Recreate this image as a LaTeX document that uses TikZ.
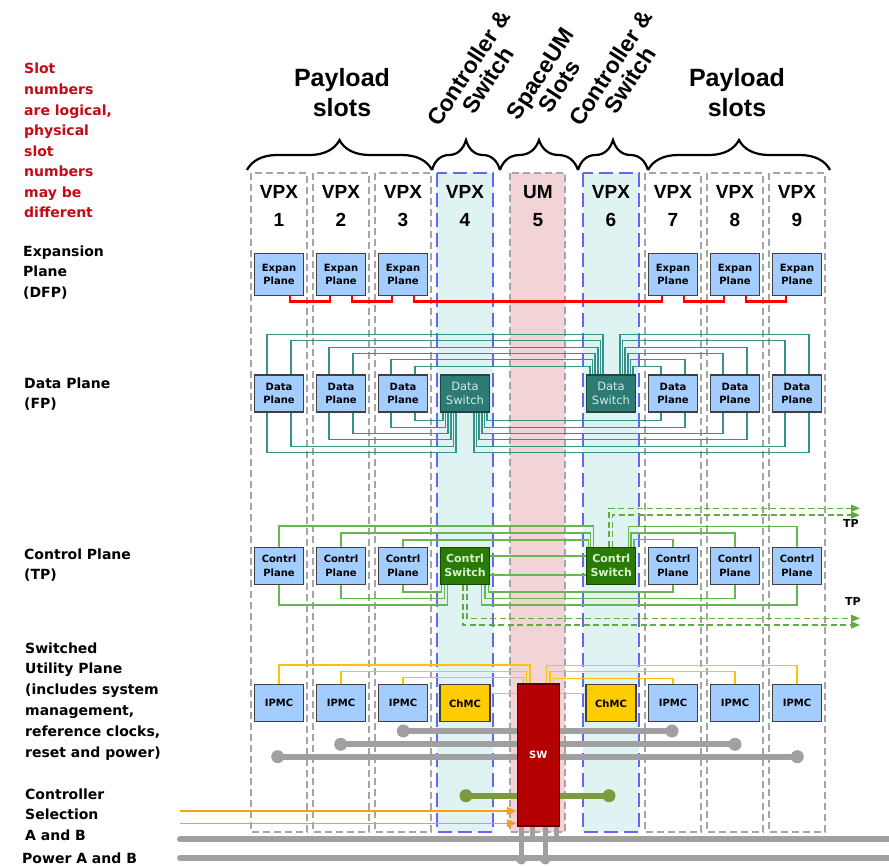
\documentclass[tikz,border=0pt]{standalone}
\usepackage{fontspec}
\setmainfont{DejaVu Sans}
\newfontfamily\hdfont{Liberation Sans}
\usetikzlibrary{arrows.meta,decorations.pathreplacing}
\pgfdeclarelayer{bg}
\pgfdeclarelayer{wires}
\pgfsetlayers{bg,wires,main}

\definecolor{boxblue}{RGB}{163,205,255}
\definecolor{boxedge}{RGB}{64,64,64}
\definecolor{slotcyan}{RGB}{223,243,243}
\definecolor{slotpink}{RGB}{242,212,215}
\definecolor{slotblue}{RGB}{100,100,255}
\definecolor{slotgray}{RGB}{165,165,165}
\definecolor{teal1}{RGB}{52,146,138}
\definecolor{tealbox}{RGB}{46,122,116}
\definecolor{tealedge}{RGB}{30,70,66}
\definecolor{tealtext}{RGB}{205,235,232}
\definecolor{grnline}{RGB}{104,182,80}
\definecolor{grnbox}{RGB}{42,122,10}
\definecolor{grnedge}{RGB}{25,70,5}
\definecolor{grntext}{RGB}{215,245,200}
\definecolor{grndash}{RGB}{96,172,64}
\definecolor{ylw}{RGB}{255,196,0}
\definecolor{chmc}{RGB}{255,204,0}
\definecolor{swred}{RGB}{180,0,0}
\definecolor{swedge}{RGB}{90,0,0}
\definecolor{busgray}{RGB}{160,160,160}
\definecolor{olivebar}{RGB}{125,155,60}
\definecolor{orng}{RGB}{245,160,30}
\definecolor{darkred}{RGB}{196,10,20}
\definecolor{expred}{RGB}{255,0,0}

\tikzset{
  pbox/.style={draw=boxedge,line width=1.1pt,fill=boxblue,minimum width=49pt,minimum height=37pt,inner sep=0pt,align=center,font=\bfseries\fontsize{10}{13.5}\selectfont},
  dsw/.style={pbox,fill=tealbox,draw=tealedge,text=tealtext,font=\fontsize{11.5}{14}\selectfont},
  csw/.style={pbox,fill=grnbox,draw=grnedge,text=grntext,font=\bfseries\fontsize{11}{14}\selectfont},
  chbox/.style={pbox,fill=chmc,minimum width=50pt},
  exline/.style={draw=expred,line width=2.4pt},
  dline/.style={draw=teal1,line width=1.7pt},
  cline/.style={draw=grnline,line width=1.3pt},
  tpline/.style={draw=grndash,line width=1.6pt,dash pattern=on 6pt off 3.5pt,-{Triangle[length=9pt,width=7pt]}},
  yline/.style={draw=ylw,line width=1.4pt},
  bus/.style={draw=busgray,line width=6pt,line cap=round},
  olivebus/.style={draw=olivebar,line width=6pt},
  selarrow/.style={draw=orng,line width=1.6pt,-{Triangle[length=10pt,width=8pt]}},
  slotframe/.style={draw=slotgray,line width=1.2pt,dash pattern=on 7pt off 4pt},
  ctlframe/.style={draw=slotblue,line width=1.3pt,dash pattern=on 14pt off 6pt},
  hbrace/.style={decorate,decoration={brace,amplitude=30pt},line width=2.2pt},
  sidelbl/.style={anchor=base west,inner sep=0pt,font=\bfseries\fontsize{14}{16}\selectfont},
  redlbl/.style={sidelbl,text=darkred},
  slotlbl/.style={align=center,inner sep=0pt,font=\hdfont\bfseries\fontsize{19}{28}\selectfont},
  grouplbl/.style={align=center,inner sep=0pt,font=\hdfont\bfseries\fontsize{25}{30}\selectfont},
  rotlbl/.style={align=center,inner sep=0pt,rotate=57,font=\hdfont\bfseries\fontsize{23}{23}\selectfont},
  tplbl/.style={inner sep=0pt,font=\bfseries\fontsize{11}{12}\selectfont},
}

\begin{document}
\begin{tikzpicture}[x=1pt,y=-1pt]
\useasboundingbox (0,0) rectangle (889,867);

% ---- slot columns ----
\begin{pgfonlayer}{bg}
  \fill[slotcyan] (437,173) rectangle (493,832);
  \fill[slotpink] (510,173) rectangle (565,832);
  \fill[slotcyan] (583,173) rectangle (639,832);
  \foreach \l in {251,313,375,645,707,769}
    \draw[slotframe] (\l,173) rectangle ++(56,659);
  \draw[slotframe] (510,173) rectangle (565,832);
  \draw[ctlframe] (437,173) rectangle (493,832);
  \draw[ctlframe] (583,173) rectangle (639,832);
\end{pgfonlayer}

% ---- headings ----
\draw[hbrace] (247,170) -- (432,170);
\draw[hbrace] (432,170) -- (500,170);
\draw[hbrace] (500,170) -- (578,170);
\draw[hbrace] (578,170) -- (648,170);
\draw[hbrace] (648,170) -- (830,170);
\node[grouplbl] (payL) at (342,93) {Payload\\slots};
\node[grouplbl] (payR) at (737,93) {Payload\\slots};
\node[rotlbl] (cswL) at (478,74) {Controller \&\\Switch};
\node[rotlbl] (spum) at (550,80) {SpaceUM\\Slots};
\node[rotlbl] (cswR) at (620,74) {Controller \&\\Switch};

\foreach \i/\x in {1/279,2/341,3/403,4/465,6/611,7/673,8/735,9/797}
  \node[slotlbl] (vpx\i) at (\x,206) {VPX\\\i};
\node[slotlbl] (vpx5) at (538,206) {UM\\5};

% ---- side notes ----
\foreach \t [count=\i] in {Slot,numbers,{are logical,},physical,slot,numbers,may be,different}
  \node[redlbl] (note\i) at (24,{74+20.5*(\i-1)}) {\t};
\foreach \t [count=\i] in {Expansion,Plane,{(DFP)}}
  \node[sidelbl] (lexp\i) at (23,{256+20.6*(\i-1)}) {\t};
\foreach \t [count=\i] in {Data Plane,{(FP)}}
  \node[sidelbl] (ldat\i) at (24,{388+20.6*(\i-1)}) {\t};
\foreach \t [count=\i] in {Control Plane,{(TP)}}
  \node[sidelbl] (lctl\i) at (24,{559+20.6*(\i-1)}) {\t};
\foreach \t [count=\i] in {Switched,Utility Plane,{(includes system},{management,},{reference clocks,},{reset and power)}}
  \node[sidelbl] (lutl\i) at (25,{653+20.8*(\i-1)}) {\t};
\foreach \t [count=\i] in {Controller,Selection,A and B}
  \node[sidelbl] (lsel\i) at (25,{799+20.6*(\i-1)}) {\t};
\node[sidelbl] (lpwr) at (22,863) {Power A and B};

% ---- modules ----
\foreach \i/\x in {1/279,2/341,3/403,7/673,8/735,9/797} {
  \node[pbox,minimum height=42pt] (e\i) at (\x,274.6) {Expan\\Plane};
  \node[pbox] (d\i) at (\x,393.5) {Data\\Plane};
  \node[pbox] (c\i) at (\x,565.7) {Contrl\\Plane};
  \node[pbox] (u\i) at (\x,703.3) {IPMC};
}
\node[dsw] (ds4) at (465,393.5) {Data\\Switch};
\node[dsw] (ds6) at (611,393.5) {Data\\Switch};
\node[csw] (cs4) at (465,565.7) {Contrl\\Switch};
\node[csw] (cs6) at (611.3,565.7) {Contrl\\Switch};
\node[chbox] (ch4) at (465,703.3) {ChMC};
\node[chbox] (ch6) at (611,703.3) {ChMC};
\node[draw=swedge,line width=1.1pt,fill=swred,text=white,minimum width=42pt,minimum height=142pt,inner sep=0pt,font=\bfseries\fontsize{10}{12}\selectfont] (sw) at (538.3,755) {SW};

\node[tplbl] (tpa) at (851,523) {TP};
\node[tplbl] (tpb) at (853,601) {TP};

\coordinate (tpu1) at (860,508.3);
\coordinate (tpu2) at (860,515);
\coordinate (tpd1) at (860,618.3);
\coordinate (tpd2) at (860,625);
\coordinate (ga1) at (403.3,731);   \coordinate (ga2) at (672,731);
\coordinate (gb1) at (340.7,744.3); \coordinate (gb2) at (735,744.3);
\coordinate (gc1) at (277.7,756.7); \coordinate (gc2) at (797.3,756.7);
\coordinate (ol1) at (466,795.7);   \coordinate (ol2) at (609,795.7);
\coordinate (sa) at (180,811);
\coordinate (sb) at (180,823.3);
\coordinate (pa1) at (180,839.3);   \coordinate (pa2) at (889,839.3);
\coordinate (pb1) at (180,857.7);   \coordinate (pb2) at (889,857.7);

\begin{pgfonlayer}{wires}
  % expansion plane daisy chain
  \foreach \a/\b in {1/2,2/3,3/7,7/8,8/9}
    \draw[exline] ([xshift=11pt]e\a.south) -- ++(0,5.5) -| ([xshift=-11pt]e\b.south);

  % data plane: upper links to the switch in slot 6
  \foreach \b/\dx/\k in {1/-12/0,1/12/1,2/-12/2,2/12/3,3/-12/4,3/12/5}
    \draw[dline] ([xshift=\dx pt]d\b.north) -- ++(0,{-(40-round(6.3*\k))}) -| ([xshift={-8-2.6*\k}]ds6.north);
  \foreach \b/\dx/\k in {9/12/0,9/-12/1,8/12/2,8/-12/3,7/12/4,7/-12/5}
    \draw[dline] ([xshift=\dx pt]d\b.north) -- ++(0,{-(40-round(6.3*\k))}) -| ([xshift={9+2.6*\k}]ds6.north);
  % data plane: lower links to the switch in slot 4
  \foreach \b/\dx/\k in {1/-12/0,1/12/1,2/-12/2,2/12/3,3/-12/4,3/12/5}
    \draw[dline] ([xshift=\dx pt]d\b.south) -- ++(0,{40-round(6.3*\k)}) -| ([xshift={-9-2.6*\k}]ds4.south);
  \foreach \b/\dx/\k in {9/12/0,9/-12/1,8/12/2,8/-12/3,7/12/4,7/-12/5}
    \draw[dline] ([xshift=\dx pt]d\b.south) -- ++(0,{40-round(6.3*\k)}) -| ([xshift={9+2.6*\k}]ds4.south);

  % control plane
  \foreach \b/\k in {1/0,2/1,3/2}
    \draw[cline] (c\b.north) -- ++(0,{-(20.6-7*\k)}) -| ([xshift={-18-2.5*\k}]cs6.north);
  \foreach \b/\k in {9/0,8/1,7/2}
    \draw[cline] (c\b.north) -- ++(0,{-(20.3-6.5*\k)}) -| ([xshift={17+2.8*\k}]cs6.north);
  \foreach \b/\k in {1/0,2/1,3/2}
    \draw[cline] (c\b.south) -- ++(0,{20.3-6.5*\k}) -| ([xshift={-17.7-2.8*\k}]cs4.south);
  \foreach \b/\k in {9/0,8/1,7/2}
    \draw[cline] (c\b.south) -- ++(0,{20.3-6.5*\k}) -| ([xshift={16.7+3.3*\k}]cs4.south);
  \draw[cline] ([yshift=9.7pt]cs4.east) -- ([yshift=9.7pt]cs6.west);
  \draw[cline] ([yshift=-9.3pt]cs4.east) -- ([yshift=-9.3pt]cs6.west);
  % off-chassis control links
  \draw[tpline] ([xshift=-2.3pt]cs6.north) |- (tpu1);
  \draw[tpline] ([xshift=1pt]cs6.north) |- (tpu2);
  \draw[tpline] ([xshift=1.7pt]cs4.south) |- (tpd1);
  \draw[tpline] ([xshift=-2.3pt]cs4.south) |- (tpd2);

  % utility plane management links
  \foreach \b/\k in {1/0,2/1,3/2}
    \draw[yline] (u\b.north) -- ++(0,{-(19.3-6.4*\k)}) -| ([xshift={-8.3-3.4*\k}]sw.north);
  \foreach \b/\k in {9/0,8/1,7/2}
    \draw[yline] (u\b.north) -- ++(0,{-(19-6.5*\k)}) -| ([xshift={8.4+3.3*\k}]sw.north);
  \draw[yline] ([yshift=10pt]ch4.east) -- ([yshift=10pt]ch4.east -| sw.west);
  \draw[yline] ([yshift=10pt]ch6.west) -- ([yshift=10pt]ch6.west -| sw.east);

  % clock / reset buses
  \foreach \n in {a,b,c} {
    \draw[bus] (g\n1) -- (g\n2);
    \fill[busgray] (g\n1) circle (6.5pt) (g\n2) circle (6.5pt);
  }
  \draw[olivebus] (ol1) -- (ol2);
  \fill[olivebar] (ol1) circle (6.5pt) (ol2) circle (6.5pt);

  % controller selection and power
  \draw[selarrow] (sa) -- (sa -| sw.west);
  \draw[selarrow] (sb) -- (sb -| sw.west);
  \draw[bus] (pa1) -- (pa2);
  \draw[bus] (pb1) -- (pb2);
  \draw[bus,line width=5pt] ([xshift=-17pt]sw.south) -- ++(0,32);
  \draw[bus,line width=5pt] ([xshift=7pt]sw.south) -- ++(0,32);
  \draw[bus,line width=5pt] ([xshift=-6pt]sw.south) -- ++(0,13);
  \draw[bus,line width=5pt] ([xshift=18pt]sw.south) -- ++(0,13);
  \fill[busgray] ([xshift=-17pt,yshift=-33pt]sw.south) circle (5pt)
                 ([xshift=7pt,yshift=-33pt]sw.south) circle (5pt);
\end{pgfonlayer}
\end{tikzpicture}
\end{document}
